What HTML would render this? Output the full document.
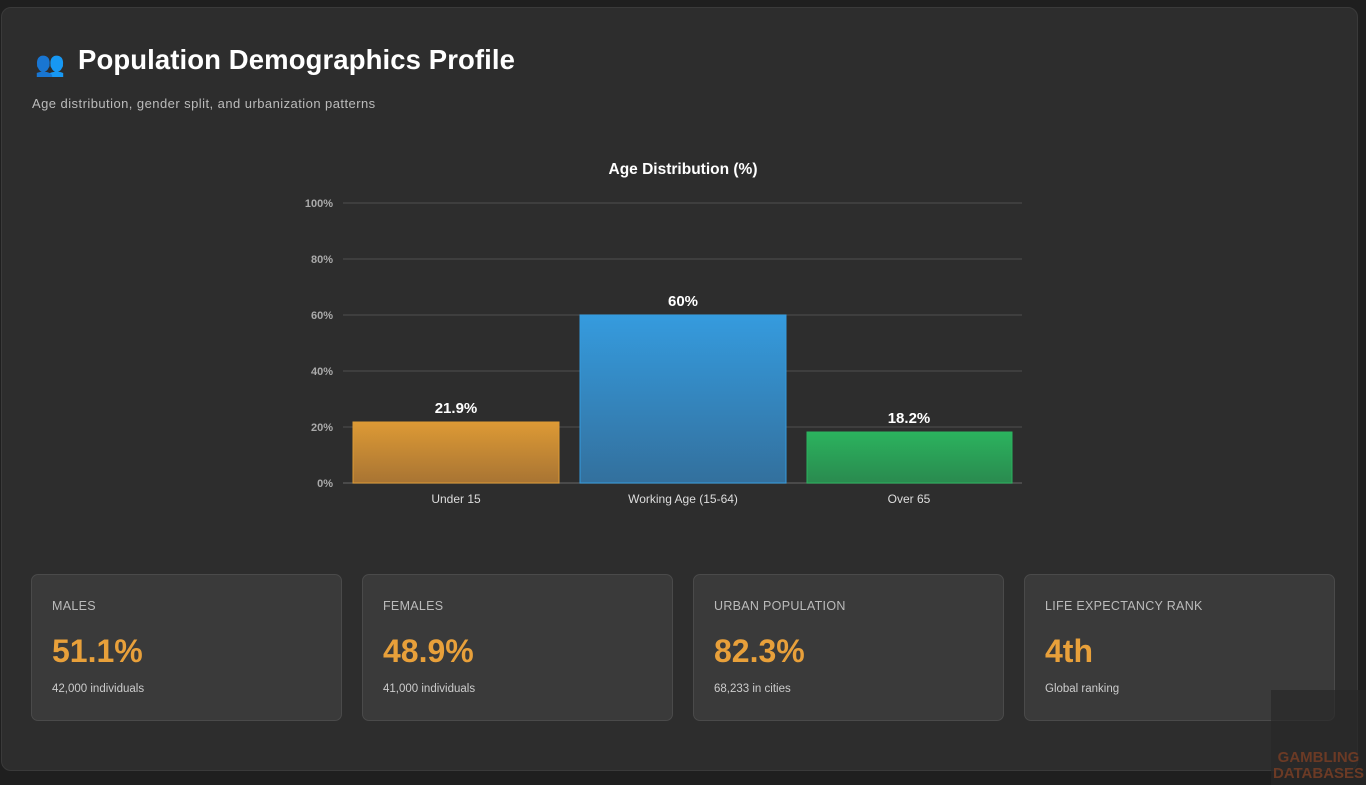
<!DOCTYPE html>
<html><head><meta charset="utf-8"><style>
body{margin:0;width:1366px;height:785px;background:#1f1f1f;font-family:"Liberation Sans",sans-serif;overflow:hidden;position:relative}
.card{position:absolute;left:1px;top:7px;width:1357px;height:764px;background:#2d2d2d;border:1px solid #3a3a3a;border-radius:10px;box-sizing:border-box}
h1{position:absolute;left:78px;top:44px;margin:0;font-size:27.5px;color:#fff;font-weight:bold;letter-spacing:0.1px}
.icon{position:absolute;left:35px;top:50px;font-size:24px}
.sub{position:absolute;left:32px;top:96px;font-size:13px;color:#bbb;letter-spacing:0.45px}
.stat{position:absolute;top:574px;width:311px;height:147px;background:#3a3a3a;border:1px solid #4a4a4a;border-radius:7px;box-sizing:border-box}
.stat .l{position:absolute;left:20px;top:24px;font-size:12.5px;color:#bbb;letter-spacing:.3px}
.stat .v{position:absolute;left:20px;top:58px;font-size:32px;font-weight:bold;color:#e8a03a}
.stat .s{position:absolute;left:20px;top:108px;font-size:11.5px;color:#ccc}
</style></head><body>
<div class="card"></div>
<div class="icon">👥</div>
<h1>Population Demographics Profile</h1>
<div class="sub">Age distribution, gender split, and urbanization patterns</div>
<svg width="1366" height="785" style="position:absolute;left:0;top:0">
<defs>
<linearGradient id="g1" x1="0" y1="0" x2="0" y2="1"><stop offset="0" stop-color="#dd9a35"/><stop offset="1" stop-color="#a87433"/></linearGradient>
<linearGradient id="g2" x1="0" y1="0" x2="0" y2="1"><stop offset="0" stop-color="#359bde"/><stop offset="1" stop-color="#33709d"/></linearGradient>
<linearGradient id="g3" x1="0" y1="0" x2="0" y2="1"><stop offset="0" stop-color="#2bb35e"/><stop offset="1" stop-color="#2a8a4f"/></linearGradient>
</defs>
<text x="683" y="174" fill="#fff" font-size="15.5" font-weight="bold" text-anchor="middle">Age Distribution (%)</text>
<g stroke="#444" stroke-width="1.5">
<line x1="343" x2="1022" y1="203" y2="203"/><line x1="343" x2="1022" y1="259" y2="259"/><line x1="343" x2="1022" y1="315" y2="315"/><line x1="343" x2="1022" y1="371" y2="371"/><line x1="343" x2="1022" y1="427" y2="427"/><line x1="343" x2="1022" y1="483" y2="483" stroke="#555"/>
</g>
<g fill="#aaa" font-size="11" font-weight="bold" text-anchor="end">
<text x="333" y="207">100%</text><text x="333" y="263">80%</text><text x="333" y="319">60%</text><text x="333" y="375">40%</text><text x="333" y="431">20%</text><text x="333" y="487">0%</text>
</g>
<rect x="353" y="422" width="206" height="61" fill="url(#g1)" stroke="#dd9a35"/>
<rect x="580" y="315" width="206" height="168" fill="url(#g2)" stroke="#359bde"/>
<rect x="807" y="432" width="205" height="51" fill="url(#g3)" stroke="#2bb35e"/>
<g fill="#fff" font-size="15" font-weight="bold" text-anchor="middle">
<text x="456" y="413">21.9%</text><text x="683" y="306">60%</text><text x="909" y="423">18.2%</text>
</g>
<g fill="#ddd" font-size="12" text-anchor="middle">
<text x="456" y="503">Under 15</text><text x="683" y="503">Working Age (15-64)</text><text x="909" y="503">Over 65</text>
</g>
</svg>
<div class="stat" style="left:31px"><div class="l">MALES</div><div class="v">51.1%</div><div class="s">42,000 individuals</div></div>
<div class="stat" style="left:362px"><div class="l">FEMALES</div><div class="v">48.9%</div><div class="s">41,000 individuals</div></div>
<div class="stat" style="left:693px"><div class="l">URBAN POPULATION</div><div class="v">82.3%</div><div class="s">68,233 in cities</div></div>
<div class="stat" style="left:1024px"><div class="l">LIFE EXPECTANCY RANK</div><div class="v">4th</div><div class="s">Global ranking</div></div>
<div style="position:absolute;left:1271px;top:690px;width:95px;height:95px;background:rgba(40,40,40,.7);color:#6b3a25;font-weight:bold;font-size:15px;text-align:center;line-height:16px;padding-top:60px;box-sizing:border-box">GAMBLING<br>DATABASES</div>
</body></html>
